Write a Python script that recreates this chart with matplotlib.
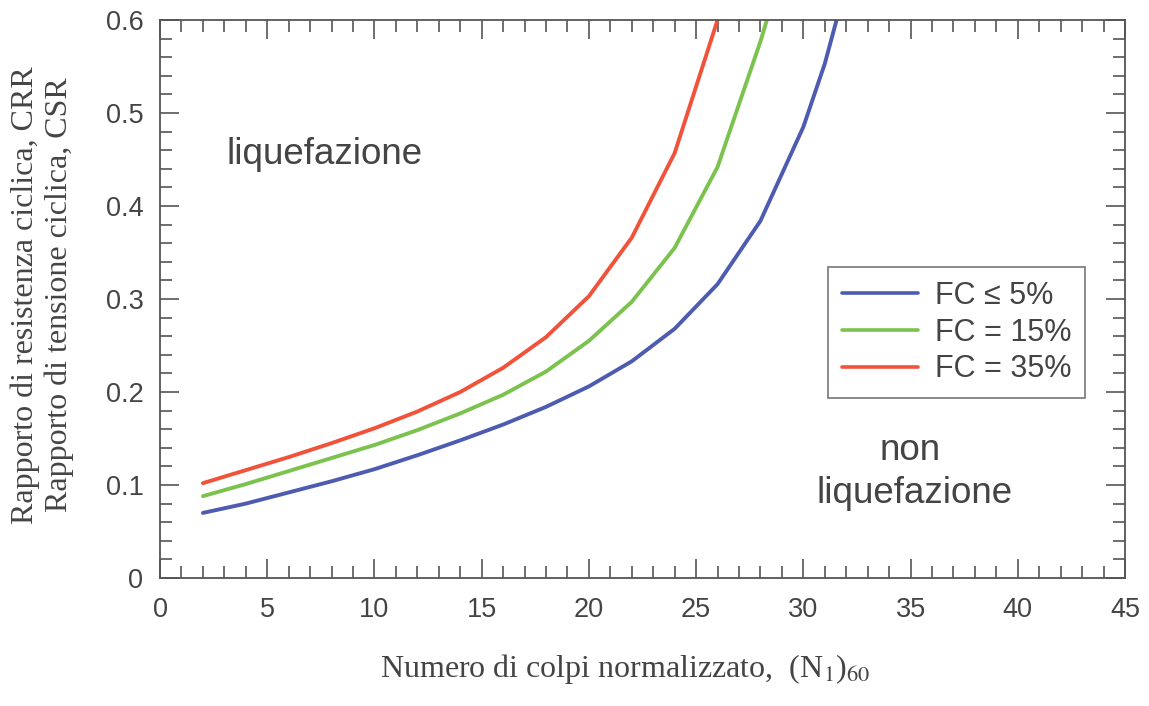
import numpy as np
import matplotlib
matplotlib.use("Agg")
import matplotlib.pyplot as plt
from matplotlib.ticker import MultipleLocator

# CRR curves vs (N1)60 for three fines contents
n_fc5 = [2, 4, 6, 8, 10, 12, 14, 16, 18, 20, 22, 24, 26, 28, 30, 31, 31.55]
crr_fc5 = [0.070, 0.080, 0.092, 0.104, 0.117, 0.132, 0.148, 0.165, 0.184, 0.206,
           0.233, 0.268, 0.316, 0.384, 0.485, 0.553, 0.600]

n_fc15 = [2, 4, 6, 8, 10, 12, 14, 16, 18, 20, 22, 24, 26, 28, 28.3]
crr_fc15 = [0.088, 0.101, 0.115, 0.129, 0.143, 0.159, 0.177, 0.197, 0.222, 0.255,
            0.297, 0.355, 0.442, 0.577, 0.600]

n_fc35 = [2, 4, 6, 8, 10, 12, 14, 16, 18, 20, 22, 24, 26]
crr_fc35 = [0.102, 0.116, 0.130, 0.145, 0.161, 0.179, 0.200, 0.226, 0.259, 0.303,
            0.366, 0.457, 0.600]

labels = ["FC ≤ 5%", "FC = 15%", "FC = 35%"]
colors = ["#4d5bb0", "#7cc24f", "#f0533a"]

plt.rcParams["font.family"] = ["Liberation Sans", "DejaVu Sans"]

fig = plt.figure(figsize=(11.49, 7.06), dpi=100)
ax = fig.add_axes([0.1393, 0.1813, 0.8398, 0.7904])

for n, crr, lab, col in zip([n_fc5, n_fc15, n_fc35], [crr_fc5, crr_fc15, crr_fc35], labels, colors):
    ax.plot(n, crr, color=col, lw=2.8, label=lab, solid_capstyle="round")

ax.set_xlim(0, 45)
ax.set_ylim(0, 0.6)
ax.xaxis.set_major_locator(MultipleLocator(5))
ax.xaxis.set_minor_locator(MultipleLocator(1))
ax.yaxis.set_major_locator(MultipleLocator(0.1))
ax.yaxis.set_minor_locator(MultipleLocator(0.02))
ax.set_yticks(np.arange(0, 0.61, 0.1))
ax.set_yticklabels(["0", "0.1", "0.2", "0.3", "0.4", "0.5", "0.6"])

grey = "#555555"
txt = "#444444"
for s in ax.spines.values():
    s.set_color(grey)
    s.set_linewidth(1.3)
ax.tick_params(which="both", direction="in", top=True, right=True, color=grey, width=1.2)
ax.tick_params(which="major", length=14, labelsize=19.5, labelcolor=txt)
ax.tick_params(which="minor", length=8.5)
ax.tick_params(axis="x", which="major", pad=14)
ax.tick_params(axis="y", which="major", pad=12)

ax.text(7.65, 0.445, "liquefazione", fontsize=26.5, color=txt, ha="center", va="baseline")
ax.text(34.98, 0.127, "non", fontsize=26.5, color=txt, ha="center", va="baseline")
ax.text(35.19, 0.0806, "liquefazione", fontsize=26.5, color=txt, ha="center", va="baseline")

leg = ax.legend(loc="upper left", bbox_to_anchor=(0.692, 0.557), borderaxespad=0,
                fontsize=22, frameon=True, fancybox=False, handlelength=2.5,
                handletextpad=0.55, labelspacing=0.22, borderpad=0.45, labelcolor=txt)
leg.get_frame().set_edgecolor(grey)
leg.get_frame().set_linewidth(1.2)
for h in leg.get_lines():
    h.set_linewidth(2.6)

fig.text(0.544, 0.041, "Numero di colpi normalizzato,  (N$_1$)$_{60}$", fontsize=23,
         family="Liberation Serif", color=txt, ha="center", va="baseline",
         math_fontfamily="stix")
fig.text(0.037, 0.582, "Rapporto di resistenza ciclica, CRR\nRapporto di tensione ciclica, CSR",
         fontsize=23, family="Liberation Serif", color=txt, rotation=90,
         ha="center", va="center", multialignment="center", linespacing=1.2)

fig.savefig("out.png", dpi=100)
